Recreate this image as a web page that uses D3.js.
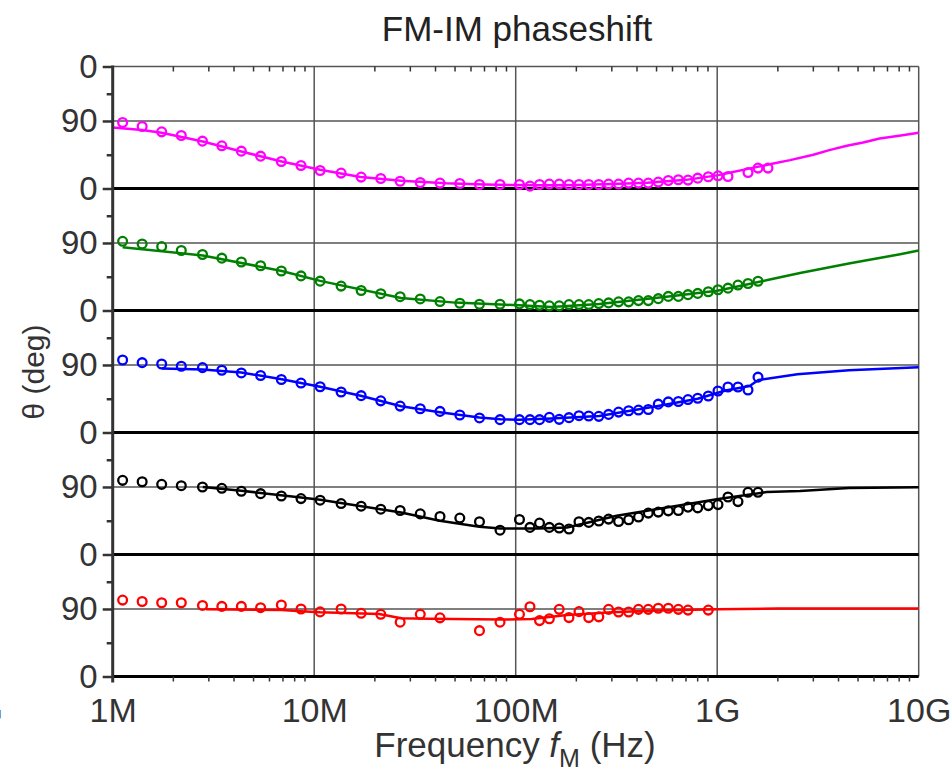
<!DOCTYPE html>
<html>
<head>
<meta charset="utf-8">
<script src="https://cdn.jsdelivr.net/npm/d3@7"></script>
<style>
  body { margin: 0; background: #fff; }
  text { font-family: "Liberation Sans", Arial, Helvetica, sans-serif; }
</style>
</head>
<body>
<svg id="chart" width="950" height="774"></svg>
<script>
// ---- measured frequencies (MHz) ----
const freqLow  = [1.12, 1.40, 1.75, 2.19, 2.79, 3.48, 4.35, 5.42, 6.87, 8.6,
                  10.7, 13.6, 17.1, 21.4, 26.7, 33.6, 42.1, 52.8, 66.1, 83.6];
const freqHigh = [104.4, 117.7, 131.3, 146.9, 164.4, 183.8, 206.1, 230.4, 258.5, 289,
                  324, 363.5, 406.8, 455, 510, 571.9, 641.6, 716.3, 800.3, 903.3,
                  1009, 1131, 1268, 1422, 1594, 1787];

// ---- measured phase (deg), one panel per trace ----
const magentaLow  = [87.9, 82.6, 75.5, 70.6, 63.1, 56.9, 49.8, 43.1, 36.0, 30.6,
                     24.0, 20.5, 15.2, 13.3, 9.6, 8.0, 7.2, 6.7, 5.3, 5.3];
const magentaHigh = [5.3, 3.2, 5.3, 5.9, 5.9, 5.3, 5.3, 5.3, 5.3, 5.9,
                     5.9, 7.2, 7.2, 7.2, 8.5, 10.7, 11.6, 11.2, 13.8, 15.6,
                     16.9, 16.0, null, 21.3, 27.2, 27.2];

const greenLow  = [92.2, 88.7, 85.2, 80.0, 74.7, 69.8, 64.6, 59.7, 52.7, 46.1,
                   39.1, 32.5, 26.7, 22.4, 18.4, 15.4, 11.9, 9.6, 8.3, 8.3];
const greenHigh = [8.8, 7.9, 7.0, 6.2, 6.2, 7.9, 7.9, 7.9, 9.2, 10.1,
                   11.5, 11.5, 13.2, 13.2, 15.8, 18.8, 18.8, 21.1, 22.8, 25.0,
                   27.7, 29.8, 33.9, 36.0, 39.0, null];

const blueLow  = [96.6, 93.1, 91.3, 88.3, 86.5, 83.0, 79.4, 76.0, 70.7, 65.9,
                  61.0, 54.0, 49.1, 42.2, 35.2, 31.6, 28.1, 23.3, 19.4, 17.1];
const blueHigh = [17.1, 17.1, 17.1, 20.2, 17.5, 19.8, 22.4, 22.0, 21.5, 24.1,
                  27.2, 29.0, 29.9, 30.7, 37.8, 40.8, 41.3, 43.9, 45.7, 48.7,
                  55.3, 60.6, 60.6, 56.7, 73.8, null];

const blackLow  = [98.8, 97.0, 93.5, 91.7, 89.9, 88.2, 84.3, 81.1, 78.0, 74.5,
                   72.4, 67.9, 64.4, 60.4, 58.6, 54.2, 50.7, 48.5, 43.7, 32.4];
const blackHigh = [46.7, 36.1, 41.9, 36.1, 35.3, 34.0, 43.7, 42.8, 44.6, 47.2,
                   44.0, 46.3, 49.9, 55.2, 56.5, 58.2, 58.6, 63.1, 62.2, 65.2,
                   66.5, 76.7, 70.5, 82.9, 82.9, null];

const redLow  = [101.8, 100.0, 98.3, 98.3, 94.7, 93.4, 93.4, 91.7, 95.3, 90.0,
                 86.1, 90.0, 84.2, 82.9, 72.4, 82.9, 78.2, null, 61.1, 72.4];
const redHigh = [82.9, 93.0, 74.5, 77.0, 89.5, 78.5, 86.5, 78.5, 79.5, 89.5,
                 86.0, 86.0, 89.5, 89.5, 91.0, 91.0, 89.5, 88.5, null, 88.5,
                 null, null, null, null, null, null];

// ---- model curves: [frequency MHz, phase deg] ----
const magentaFit = [[1, 81.2], [1.4, 78], [1.75, 74.2], [2.8, 62.6], [4.35, 49.3], [6.9, 36],
  [10.7, 24.9], [17, 15.2], [27, 10.3], [45, 7], [70, 5.3], [100, 4.5], [130, 4.2],
  [200, 4.8], [300, 6], [450, 7.8], [700, 11.5], [1000, 17.5], [1150, 21], [1400, 25.8],
  [1900, 33.3], [2300, 37.8], [3000, 44.9], [3600, 51.1], [4400, 56.9], [5300, 61.3],
  [6400, 66.6], [8000, 70.2], [10000, 74.2]];
const greenFit = [[1.12, 84.3], [2.8, 73.4], [6.9, 52.7], [10.7, 39.5], [27, 16.7],
  [50, 10.5], [84, 7.9], [104, 7], [150, 4.8], [260, 8.8], [560, 18.4], [1000, 26.4],
  [1480, 36], [1800, 41], [2577, 50], [4570, 63], [8090, 75], [10000, 80]];
const blueFit = [[1.75, 85.2], [2.8, 84], [4.35, 80], [6.9, 71], [10.7, 61], [17, 49],
  [27, 35], [42, 27], [66, 20], [84, 17.5], [104, 17], [150, 18.5], [260, 22], [500, 35],
  [800, 45], [1100, 56], [1450, 62], [1600, 70], [2500, 77.7], [4500, 83], [10000, 87]];
const blackFit = [[2.8, 89.9], [4.35, 85], [8.6, 76], [10.7, 73], [27, 56], [42, 45],
  [66, 37], [84, 34.8], [130, 34.8], [180, 36], [317, 51.6], [994, 73.7], [1761, 83.3],
  [2577, 84.6], [4500, 88.6], [10000, 89.5]];
const redFit = [[2.9, 89.5], [6.9, 88.7], [8.6, 86.9], [10.7, 85.5], [21, 83.4], [27, 77.7],
  [37, 76.9], [84, 75.9], [120, 76.5], [180, 82], [300, 85.5], [500, 88], [1000, 89.5],
  [2000, 90.5], [10000, 90.5]];

const xTickValues = [1e6, 1e7, 1e8, 1e9, 1e10];
const xTickLabels = ["1M", "10M", "100M", "1G", "10G"];

// ---- traces, top to bottom ----
const traces = [
  { color: "#ff00ff", low: magentaLow, high: magentaHigh, fit: magentaFit },
  { color: "#008000", low: greenLow,   high: greenHigh,   fit: greenFit },
  { color: "#0000ff", low: blueLow,    high: blueHigh,    fit: blueFit },
  { color: "#000000", low: blackLow,   high: blackHigh,   fit: blackFit },
  { color: "#ff0000", low: redLow,     high: redHigh,     fit: redFit }
];

const svg = d3.select("#chart");
const plotLeft = 112.7, plotRight = 918.7, plotTop = 66.5, plotBottom = 676.5;
const panelH = (plotBottom - plotTop) / traces.length;
const phaseMax = 162.6;
const fontFamily = "'Liberation Sans', Arial, sans-serif";

const x = d3.scaleLog().domain([1e6, 1e10]).range([plotLeft, plotRight]);
const yFor = i => {
  const zero = plotTop + panelH * (i + 1);
  return d3.scaleLinear().domain([0, phaseMax]).range([zero, zero - panelH]);
};

const gridColor = "#555";
const axisColor = "#333";

// vertical grid and frame
const grid = svg.append("g");
grid.selectAll("line.v").data([1e7, 1e8, 1e9, 1e10]).join("line")
  .attr("x1", d => x(d)).attr("x2", d => x(d))
  .attr("y1", plotTop).attr("y2", plotBottom)
  .attr("stroke", gridColor).attr("stroke-width", 1.5);
grid.append("line")
  .attr("x1", plotLeft).attr("x2", plotRight).attr("y1", plotTop).attr("y2", plotTop)
  .attr("stroke", gridColor).attr("stroke-width", 1.5);

// minor x ticks along the top edge
const minorX = [];
for (let dec = 6; dec < 10; dec++) for (let m = 2; m <= 9; m++) minorX.push(m * Math.pow(10, dec));
grid.selectAll("line.tm").data(minorX).join("line")
  .attr("x1", d => x(d)).attr("x2", d => x(d))
  .attr("y1", plotTop).attr("y2", plotTop + 5)
  .attr("stroke", axisColor).attr("stroke-width", 1.5);

traces.forEach((t, i) => {
  const y = yFor(i);
  const g = svg.append("g");

  // 90 deg reference line
  g.append("line")
    .attr("x1", plotLeft).attr("x2", plotRight).attr("y1", y(90)).attr("y2", y(90))
    .attr("stroke", gridColor).attr("stroke-width", 1.5);

  // left axis: major ticks with labels, minor ticks without
  const majors = i === 0 ? [0, 90, phaseMax] : [0, 90];
  const axMajor = d3.axisLeft(y).tickValues(majors).tickSize(10).tickPadding(5)
    .tickFormat(d => d === phaseMax ? "0" : String(d));
  const ga = g.append("g").attr("transform", `translate(${plotLeft},0)`).call(axMajor);
  ga.select(".domain").remove();
  ga.selectAll("line").attr("stroke", axisColor).attr("stroke-width", 2.5);
  ga.selectAll("text").attr("fill", "#333").style("font-size", "33px")
    .style("font-family", fontFamily);
  const axMinor = d3.axisLeft(y).tickValues([45, (90 + phaseMax) / 2]).tickSize(6).tickFormat("");
  const gm = g.append("g").attr("transform", `translate(${plotLeft},0)`).call(axMinor);
  gm.select(".domain").remove();
  gm.selectAll("line").attr("stroke", axisColor).attr("stroke-width", 2.5);

  // panel baseline (0 deg)
  g.append("line")
    .attr("x1", plotLeft).attr("x2", plotRight).attr("y1", y(0)).attr("y2", y(0))
    .attr("stroke", "#000").attr("stroke-width", 3);

  // model curve
  const line = d3.line().x(d => x(d[0] * 1e6)).y(d => y(d[1]));
  g.append("path").datum(t.fit)
    .attr("d", line).attr("fill", "none")
    .attr("stroke", t.color).attr("stroke-width", 2.5).attr("stroke-linejoin", "round");

  // measured points
  const pts = [];
  freqLow.forEach((f, k) => { if (t.low[k] != null) pts.push([f, t.low[k]]); });
  freqHigh.forEach((f, k) => { if (t.high[k] != null) pts.push([f, t.high[k]]); });
  g.selectAll("circle").data(pts).join("circle")
    .attr("cx", d => x(d[0] * 1e6)).attr("cy", d => y(d[1])).attr("r", 4.4)
    .attr("fill", "none").attr("stroke", t.color).attr("stroke-width", 2.3);
});

// left axis line
svg.append("line")
  .attr("x1", plotLeft).attr("x2", plotLeft).attr("y1", plotTop - 1).attr("y2", plotBottom + 6)
  .attr("stroke", axisColor).attr("stroke-width", 3);

// bottom axis
const xAxis = d3.axisBottom(x).tickValues(xTickValues).tickSize(0).tickPadding(21)
  .tickFormat((d, k) => xTickLabels[k]);
const gx = svg.append("g").attr("transform", `translate(0,${plotBottom})`).call(xAxis);
gx.select(".domain").remove();
gx.selectAll("text").attr("fill", "#333").style("font-size", "34px")
  .style("font-family", fontFamily);
gx.selectAll("line.minor").data(minorX).join("line").attr("class", "minor")
  .attr("x1", d => x(d)).attr("x2", d => x(d)).attr("y1", 0).attr("y2", 5)
  .attr("stroke", axisColor).attr("stroke-width", 1.5);

// label spilling in from the neighbouring plot
svg.append("text").attr("x", 3).attr("y", 722).attr("text-anchor", "end")
  .attr("fill", "#333").style("font-size", "34px").text("10G");

// title and axis titles
svg.append("text").attr("x", 517).attr("y", 41).attr("text-anchor", "middle")
  .attr("fill", "#222").style("font-size", "35px").text("FM-IM phaseshift");

const xt = svg.append("text").attr("x", 515).attr("y", 757).attr("text-anchor", "middle")
  .attr("fill", "#333").style("font-size", "35px");
xt.append("tspan").text("Frequency ");
xt.append("tspan").style("font-style", "italic").text("f");
xt.append("tspan").attr("dy", 10).style("font-size", "25px").text("M");
xt.append("tspan").attr("dy", -10).text(" (Hz)");

svg.append("text").attr("transform", "translate(44,372) rotate(-90)")
  .attr("text-anchor", "middle").attr("fill", "#333").style("font-size", "30px")
  .text("θ (deg)");
</script>
</body>
</html>
